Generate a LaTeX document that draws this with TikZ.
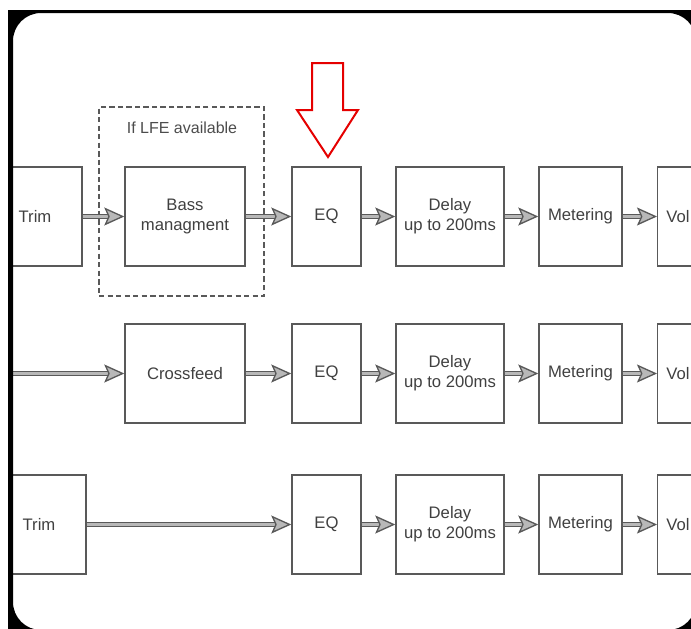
\documentclass[tikz,border=0pt]{standalone}
\usepackage{fontspec}
\setmainfont{Liberation Sans}
\usetikzlibrary{arrows.meta}
\tikzset{
  block/.style={draw=black!65, line width=1.1pt, rectangle, minimum width=#1, minimum height=74.25pt, align=center, inner sep=1pt, text=black!75, font=\fontsize{12.5}{15}\selectfont},
  volblock/.style={draw=black!65, line width=1.1pt, rectangle, minimum height=74.25pt, text width=66pt, inner xsep=6.5pt, align=left, text=black!75, font=\fontsize{12.5}{15}\selectfont},
  group/.style={draw=black!65, line width=1pt, dash pattern=on 4pt off 2.4pt, minimum width=123.75pt, minimum height=141.75pt},
  note/.style={text=black!70, font=\fontsize{12}{14}\selectfont},
  line/.style={draw=black!65, line width=1pt, double=black!28, double distance=1.9pt, -{Stealth[length=15pt, width=13.5pt, inset=3pt, fill=black!28]}},
  marker/.style={draw=red!90!black, line width=1.5pt, fill=white, line join=miter}
}

\begin{document}
\begin{tikzpicture}[x=0.75pt, y=-0.75pt]
    \useasboundingbox (0,0) rectangle (691,628);
    \clip (0,0) rectangle (691,628);

    \node[group] (lfe) at (181.5,201.5) {};
    \node[note] (lfelabel) at (182,128) {If LFE available};

    \node[block=70.5pt] (trim1) at (35,216.5) {Trim};
    \node[block=90pt] (bass) at (185,216.5) {Bass\\managment};
    \node[block=51.75pt] (eq1) at (326.5,216.5) {EQ};
    \node[block=81pt] (delay1) at (450,216.5) {Delay\\up to 200ms};
    \node[block=62.25pt] (meter1) at (580.5,216.5) {Metering};
    \node[volblock, anchor=west] (vol1) at (657,216.5) {Vol};

    \coordinate (in2) at (13,373.5);
    \node[block=90pt] (cross) at (185,373.5) {Crossfeed};
    \node[block=51.75pt] (eq2) at (326.5,373.5) {EQ};
    \node[block=81pt] (delay2) at (450,373.5) {Delay\\up to 200ms};
    \node[block=62.25pt] (meter2) at (580.5,373.5) {Metering};
    \node[volblock, anchor=west] (vol2) at (657,373.5) {Vol};

    \node[block=70.5pt] (trim3) at (39,524.5) {Trim};
    \node[block=51.75pt] (eq3) at (326.5,524.5) {EQ};
    \node[block=81pt] (delay3) at (450,524.5) {Delay\\up to 200ms};
    \node[block=62.25pt] (meter3) at (580.5,524.5) {Metering};
    \node[volblock, anchor=west] (vol3) at (657,524.5) {Vol};

    \draw[line] (trim1) -- (bass);
    \draw[line] (bass) -- (eq1);
    \draw[line] (eq1) -- (delay1);
    \draw[line] (delay1) -- (meter1);
    \draw[line] (meter1) -- (vol1);

    \draw[line] (in2) -- (cross);
    \draw[line] (cross) -- (eq2);
    \draw[line] (eq2) -- (delay2);
    \draw[line] (delay2) -- (meter2);
    \draw[line] (meter2) -- (vol2);

    \draw[line] (trim3) -- (eq3);
    \draw[line] (eq3) -- (delay3);
    \draw[line] (delay3) -- (meter3);
    \draw[line] (meter3) -- (vol3);

    \draw[marker] (312,63) -- (343,63) -- (343,110) -- (358,110) -- (328,157) -- (297,110) -- (312,110) -- cycle;

    % screenshot frame
    \fill[white, even odd rule] (-20,-20) rectangle (720,650) (8,10) rectangle (720,650);
    \fill[black, even odd rule] (8,10) rectangle (720,650) (13,13) [rounded corners=21pt] rectangle (696,630);
\end{tikzpicture}
\end{document}
